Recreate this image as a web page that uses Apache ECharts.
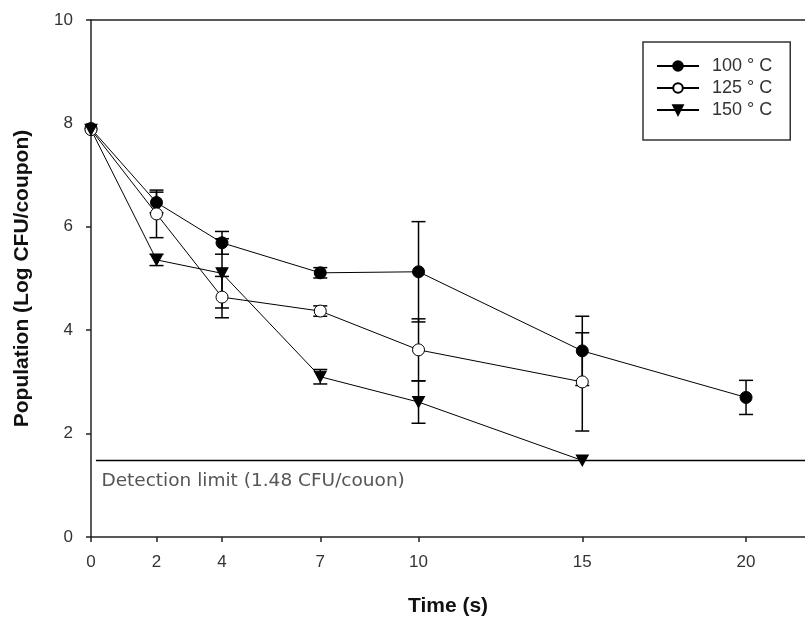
<!DOCTYPE html>
<html>
<head>
<meta charset="utf-8">
<script src="https://cdn.jsdelivr.net/npm/echarts@6/dist/echarts.min.js"></script>
<style>html,body{margin:0;padding:0;background:#fff}#c{width:805px;height:623px}</style>
</head>
<body>
<div id="c"></div>
<script>
// Time points (s)
const times = [0, 2, 4, 7, 10, 15, 20];
const xTicks = [0, 2, 4, 7, 10, 15, 20];
const yTicks = [0, 2, 4, 6, 8, 10];

// 100 °C
const t100 = [0, 2, 4, 7, 10, 15, 20];
const mean100 = [7.90, 6.47, 5.69, 5.11, 5.13, 3.60, 2.70];
const err100 = [0.00, 0.20, 0.22, 0.10, 0.97, 0.67, 0.33];

// 125 °C
const t125 = [0, 2, 4, 7, 10, 15];
const mean125 = [7.88, 6.25, 4.64, 4.37, 3.62, 3.00];
const err125 = [0.00, 0.46, 0.40, 0.10, 0.60, 0.95];

// 150 °C
const t150 = [0, 2, 4, 7, 10, 15];
const mean150 = [7.88, 5.36, 5.10, 3.10, 2.61, 1.48];
const err150 = [0.00, 0.11, 0.67, 0.14, 0.41, 0.00];

// Detection limit
const detLimit = 1.48;
const detX = [0.15, 21.8];
const detText = 'Detection limit (1.48 CFU/couon)';

const names = ['100 ° C', '125 ° C', '150 ° C'];

function pts(t, m) { return t.map((x, i) => [x, m[i]]); }
function errs(t, m, e) { return t.map((x, i) => [x, m[i] - e[i], m[i] + e[i]]).filter((d, i) => e[i] > 0); }

const triDown = 'path://M0,0 L10,0 L5,9 Z';

function errSeries(data) {
  return {
    type: 'custom',
    z: 1,
    silent: true,
    data: data,
    renderItem: function (params, api) {
      const x = api.value(0);
      const lo = api.coord([x, api.value(1)]);
      const hi = api.coord([x, api.value(2)]);
      const w = 7;
      const st = { stroke: '#000', lineWidth: 1.5 };
      return {
        type: 'group',
        children: [
          { type: 'line', shape: { x1: lo[0], y1: lo[1], x2: hi[0], y2: hi[1] }, style: st },
          { type: 'line', shape: { x1: lo[0] - w, y1: lo[1], x2: lo[0] + w, y2: lo[1] }, style: st },
          { type: 'line', shape: { x1: hi[0] - w, y1: hi[1], x2: hi[0] + w, y2: hi[1] }, style: st }
        ]
      };
    }
  };
}

const chart = echarts.init(document.getElementById('c'), null, { renderer: 'canvas' });
const font = 'Liberation Sans, Arial, sans-serif';
chart.setOption({
  animation: false,
  backgroundColor: '#fff',
  grid: { left: 91, top: 20, right: 0, bottom: 86 },
  xAxis: [{
    type: 'value', min: 0, max: 21.8,
    name: 'Time (s)', nameLocation: 'middle', nameGap: 59,
    nameTextStyle: { fontFamily: font, fontSize: 21, fontWeight: 'bold', color: '#111' },
    axisLine: { show: true, lineStyle: { color: '#222', width: 1.5 } },
    axisTick: { show: true, length: 5, inside: false, customValues: xTicks, lineStyle: { color: '#222', width: 1.5 } },
    axisLabel: { customValues: xTicks, fontFamily: font, fontSize: 17, color: '#333', margin: 17 },
    splitLine: { show: false }
  }, {
    type: 'value', min: 0, max: 21.8, position: 'top',
    axisLine: { show: true, lineStyle: { color: '#222', width: 1.5 } },
    axisTick: { show: false }, axisLabel: { show: false }, splitLine: { show: false }
  }],
  yAxis: {
    type: 'value', min: 0, max: 10, interval: 2,
    name: 'Population (Log CFU/coupon)', nameLocation: 'middle', nameGap: 58,
    nameTextStyle: { fontFamily: font, fontSize: 21, fontWeight: 'bold', color: '#111' },
    axisLine: { show: true, lineStyle: { color: '#222', width: 1.5 } },
    axisTick: { show: true, length: 5, lineStyle: { color: '#222', width: 1.5 } },
    axisLabel: { fontFamily: font, fontSize: 17, color: '#333', margin: 18 },
    splitLine: { show: false }
  },
  legend: {
    data: names,
    orient: 'vertical',
    left: 643, top: 42,
    padding: [15, 18, 21, 13],
    itemGap: 4,
    itemWidth: 42, itemHeight: 12,
    borderColor: '#333', borderWidth: 1.5,
    textStyle: { fontFamily: font, fontSize: 18, color: '#333', padding: [0, 0, 0, 8], lineHeight: 17 }
  },
  series: [
    errSeries(errs(t100, mean100, err100)),
    errSeries(errs(t125, mean125, err125)),
    errSeries(errs(t150, mean150, err150)),
    {
      name: names[0], type: 'line', z: 3, data: pts(t100, mean100),
      symbol: 'circle', symbolSize: 12,
      lineStyle: { color: '#000', width: 1 },
      itemStyle: { color: '#000', borderColor: '#000', borderWidth: 1 }
    },
    {
      name: names[1], type: 'line', z: 3, data: pts(t125, mean125),
      symbol: 'circle', symbolSize: 12,
      lineStyle: { color: '#000', width: 1 },
      itemStyle: { color: '#fff', borderColor: '#000', borderWidth: 1 }
    },
    {
      name: names[2], type: 'line', z: 3, data: pts(t150, mean150),
      symbol: triDown, symbolSize: [12, 11],
      lineStyle: { color: '#000', width: 1 },
      itemStyle: { color: '#000', borderColor: '#000', borderWidth: 1 }
    },
    {
      name: 'limit', type: 'line', z: 2, silent: true,
      data: detX.map((x, i) => ({
        value: [x, detLimit],
        label: i === 0 ? { show: true, formatter: detText, position: [6, 12], align: 'left', verticalAlign: 'top',
          fontFamily: 'DejaVu Sans, sans-serif', fontSize: 18.5, color: '#555' } : { show: false }
      })),
      symbol: 'circle', symbolSize: 1, showSymbol: true,
      itemStyle: { color: 'rgba(0,0,0,0)' },
      lineStyle: { color: '#000', width: 1.5 }
    }
  ]
});
</script>
</body>
</html>
